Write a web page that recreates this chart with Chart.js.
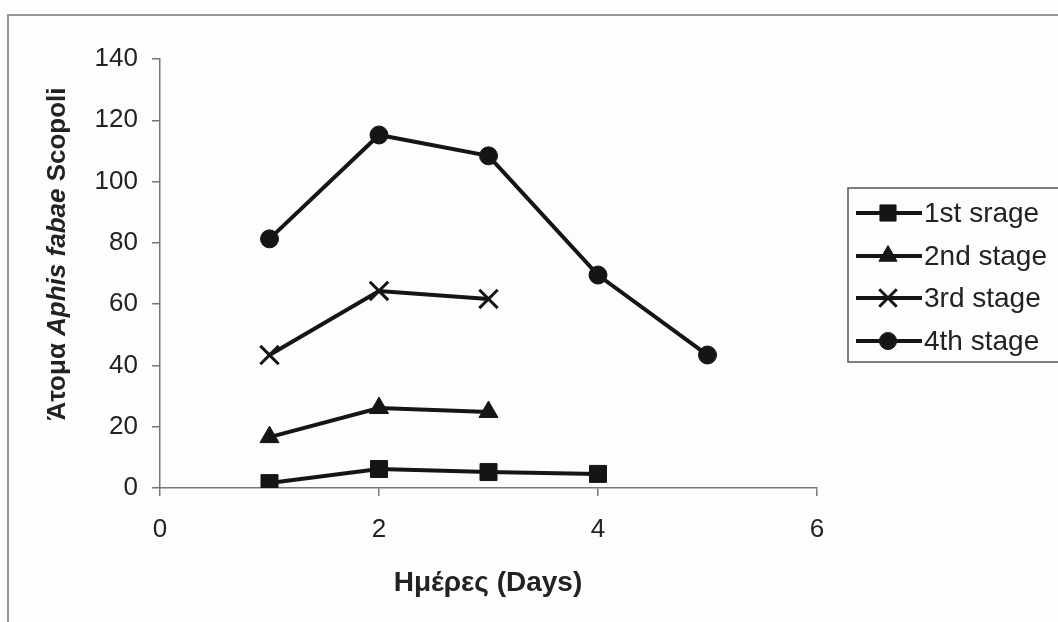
<!DOCTYPE html>
<html>
<head>
<meta charset="utf-8">
<script src="https://cdn.jsdelivr.net/npm/chart.js@4"></script>
<style>
  html, body { margin: 0; padding: 0; background: #fcfefe; }
  #wrap { width: 1058px; height: 622px; position: relative; }
</style>
</head>
<body>
<div id="wrap"><canvas id="c" width="1058" height="622"></canvas></div>
<script>
const days = [1, 2, 3, 4, 5];
const stage1 = [1.6, 6.2, 5.2, 4.6];
const stage2 = [16.6, 26.1, 24.8];
const stage3 = [43.4, 64.3, 61.7];
const stage4 = [81.3, 115.2, 108.4, 69.5, 43.4];
const seriesNames = ['1st srage', '2nd stage', '3rd stage', '4th stage'];
const yTicks = [0, 20, 40, 60, 80, 100, 120, 140];

const ink = '#151515';
const FONT = '"Liberation Sans", Arial, sans-serif';

function pts(vals) { return vals.map((v, i) => ({ x: days[i], y: v })); }

function ds(label, vals, style, radius) {
  return {
    label, data: pts(vals),
    borderColor: ink, backgroundColor: ink, borderWidth: 4,
    pointStyle: style, pointRadius: radius, pointBorderWidth: style === 'crossRot' ? 3 : 1,
    pointBorderColor: ink, pointBackgroundColor: ink, tension: 0
  };
}

const datasets = [
  ds(seriesNames[0], stage1, 'rect', 12),
  ds(seriesNames[1], stage2, 'triangle', 11),
  ds(seriesNames[2], stage3, 'crossRot', 13),
  ds(seriesNames[3], stage4, 'circle', 9)
];

// frame, axis titles and legend box
const decor = {
  id: 'decor',
  beforeDraw(chart) {
    const ctx = chart.ctx;
    ctx.save();
    ctx.strokeStyle = '#999';
    ctx.lineWidth = 2;
    ctx.beginPath();
    ctx.moveTo(8, 622); ctx.lineTo(8, 15); ctx.lineTo(1058, 15);
    ctx.stroke();
    ctx.restore();
  },
  afterDraw(chart) {
    const ctx = chart.ctx;
    ctx.save();
    ctx.fillStyle = '#222';
    // x title
    ctx.font = 'bold 28px ' + FONT;
    ctx.textAlign = 'center';
    ctx.textBaseline = 'middle';
    ctx.fillText('Ημέρες (Days)', 488, 583);
    // y title, mixed italic
    ctx.translate(58, 254);
    ctx.rotate(-Math.PI / 2);
    const parts = [['Άτομα ', 'bold '], ['Aphis fabae', 'italic bold '], [' Scopoli', 'bold ']];
    let total = 0;
    parts.forEach(p => { ctx.font = p[1] + '26px ' + FONT; total += ctx.measureText(p[0]).width; });
    let x = -total / 2;
    ctx.textAlign = 'left';
    parts.forEach(p => { ctx.font = p[1] + '26px ' + FONT; ctx.fillText(p[0], x, 0); x += ctx.measureText(p[0]).width; });
    ctx.restore();

    // legend
    ctx.save();
    ctx.strokeStyle = '#555';
    ctx.lineWidth = 1.5;
    ctx.strokeRect(848, 188, 230, 174);
    const rows = [213, 256, 298, 341];
    chart.data.datasets.forEach((d, i) => {
      const y = rows[i];
      ctx.strokeStyle = ink;
      ctx.lineWidth = 4;
      ctx.beginPath(); ctx.moveTo(856, y); ctx.lineTo(922, y); ctx.stroke();
      const pointOpts = { pointStyle: d.pointStyle, radius: d.pointRadius * 0.95, rotation: 0, borderWidth: d.pointBorderWidth };
      ctx.fillStyle = ink; ctx.strokeStyle = ink; ctx.lineWidth = d.pointBorderWidth;
      Chart.helpers.drawPoint(ctx, pointOpts, 888, y);
      ctx.fillStyle = '#222';
      ctx.font = '28px ' + FONT;
      ctx.textAlign = 'left';
      ctx.textBaseline = 'middle';
      ctx.fillText(d.label, 924, y + 1);
    });
    ctx.restore();
  }
};

new Chart(document.getElementById('c'), {
  type: 'line',
  data: { datasets },
  options: {
    responsive: false,
    animation: false,
    layout: { padding: { left: 60, right: 241, top: 59, bottom: 0 } },
    plugins: { legend: { display: false }, tooltip: { enabled: false } },
    scales: {
      x: {
        type: 'linear', min: 0, max: 6,
        afterFit: s => { s.height = 134; },
        ticks: { stepSize: 2, color: '#222', font: { family: FONT, size: 26 }, padding: 18 },
        grid: { drawOnChartArea: false, drawTicks: true, tickLength: 8, color: '#777', lineWidth: 1.5 },
        border: { color: '#777', width: 1.5 }
      },
      y: {
        type: 'linear', min: 0, max: 140,
        afterFit: s => { s.width = 100; },
        afterBuildTicks: s => { s.ticks = yTicks.map(v => ({ value: v })); },
        ticks: { color: '#222', font: { family: FONT, size: 26 }, padding: 14 },
        grid: { drawOnChartArea: false, drawTicks: true, tickLength: 8, color: '#777', lineWidth: 1.5 },
        border: { color: '#777', width: 1.5 }
      }
    }
  },
  plugins: [decor]
});
</script>
</body>
</html>
